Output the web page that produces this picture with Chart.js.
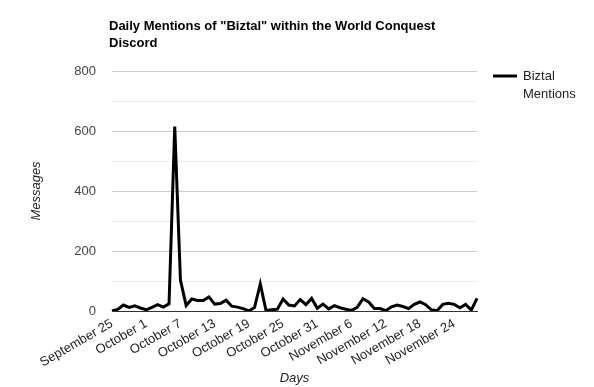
<!DOCTYPE html>
<html>
<head>
<meta charset="utf-8">
<script src="https://cdn.jsdelivr.net/npm/chart.js@4/dist/chart.umd.min.js"></script>
<style>
  html, body { margin: 0; padding: 0; background: #fff; }
  #wrap { position: relative; width: 594px; height: 387px; }
</style>
</head>
<body>
<div id="wrap"><canvas id="mentionsChart" width="594" height="387"></canvas></div>
<script>
// Chart data
const chartTitle = ['Daily Mentions of "Biztal" within the World Conquest', 'Discord'];
const seriesName = ["Biztal", "Mentions"];

const days = [
  "September 25", "September 26", "September 27", "September 28", "September 29", "September 30",
  "October 1", "October 2", "October 3", "October 4", "October 5", "October 6", "October 7",
  "October 8", "October 9", "October 10", "October 11", "October 12", "October 13", "October 14",
  "October 15", "October 16", "October 17", "October 18", "October 19", "October 20", "October 21",
  "October 22", "October 23", "October 24", "October 25", "October 26", "October 27", "October 28",
  "October 29", "October 30", "October 31",
  "November 1", "November 2", "November 3", "November 4", "November 5", "November 6", "November 7",
  "November 8", "November 9", "November 10", "November 11", "November 12", "November 13", "November 14",
  "November 15", "November 16", "November 17", "November 18", "November 19", "November 20", "November 21",
  "November 22", "November 23", "November 24", "November 25", "November 26", "November 27", "November 28"
];

const mentions = [
  0, 5, 20, 12, 17, 10, 4, 12, 21, 13, 24, 615, 103, 18, 40, 35, 35, 47, 23, 25,
  36, 16, 13, 8, 0, 12, 90, 2, 4, 6, 40, 20, 17, 38, 21, 42, 9, 23, 7, 18,
  11, 6, 2, 12, 41, 30, 8, 8, 1, 14, 20, 15, 8, 22, 30, 21, 4, 1, 22, 26,
  22, 11, 22, 3, 42
];

const labelEvery = 6;
const yMax = 800;
const yStep = 100;
const yLabelStep = 200;

const FONT = "Arial, 'Liberation Sans', sans-serif";

// Title and legend drawn on the canvas
const headerPlugin = {
  id: "header",
  afterDraw(chart) {
    const ctx = chart.ctx;
    ctx.save();
    ctx.fillStyle = "#000";
    ctx.font = "bold 13px " + FONT;
    ctx.textBaseline = "alphabetic";
    ctx.textAlign = "left";
    ctx.fillText(chartTitle[0], 109, 30);
    ctx.fillText(chartTitle[1], 109, 47);

    // legend
    ctx.strokeStyle = "#000";
    ctx.lineWidth = 3;
    ctx.beginPath();
    ctx.moveTo(493, 76);
    ctx.lineTo(517, 76);
    ctx.stroke();
    ctx.fillStyle = "#222";
    ctx.font = "13px " + FONT;
    ctx.textBaseline = "middle";
    ctx.fillText(seriesName[0], 523, 76);
    ctx.fillText(seriesName[1], 523, 94);
    ctx.restore();
  }
};

const ctx = document.getElementById("mentionsChart");

new Chart(ctx, {
  type: "line",
  data: {
    labels: days,
    datasets: [
      {
        label: seriesName.join(" "),
        data: mentions,
        borderColor: "#000",
        backgroundColor: "#000",
        borderWidth: 3,
        pointRadius: 0,
        tension: 0,
        fill: false,
      },
    ],
  },
  options: {
    responsive: false,
    animation: false,
    layout: {
      padding: { top: 71, right: 117, bottom: 0, left: 0 },
    },
    plugins: {
      legend: { display: false },
      title: { display: false },
      tooltip: { enabled: false },
    },
    scales: {
      x: {
        offset: false,
        grid: { display: false, drawTicks: false },
        border: { display: true, color: "#333", width: 1 },
        ticks: {
          autoSkip: false,
          minRotation: 30,
          maxRotation: 30,
          padding: 5,
          color: "#222",
          font: { family: FONT, size: 13 },
          callback: function (value, index) {
            return index % labelEvery === 0 ? days[index] : "";
          },
        },
        title: {
          display: true,
          text: "Days",
          color: "#222",
          font: { family: FONT, size: 13, style: "italic" },
          padding: { top: 0, bottom: 1 },
        },
        afterFit(scale) {
          scale.height = 76;
        },
      },
      y: {
        min: 0,
        max: yMax,
        grid: {
          drawTicks: false,
          color: (c) => {
            const v = c.tick.value;
            if (v === 0) return "#333";
            return v % yLabelStep === 0 ? "#cccccc" : "#ebebeb";
          },
        },
        border: { display: false },
        ticks: {
          stepSize: yStep,
          padding: 16,
          color: "#444",
          font: { family: FONT, size: 13 },
          callback: function (value) {
            return value % yLabelStep === 0 ? value : "";
          },
        },
        title: {
          display: true,
          text: "Messages",
          color: "#222",
          font: { family: FONT, size: 13, style: "italic" },
          padding: { top: 29, bottom: 0 },
        },
        afterFit(scale) {
          scale.width = 112;
        },
      },
    },
  },
  plugins: [headerPlugin],
});
</script>
</body>
</html>
